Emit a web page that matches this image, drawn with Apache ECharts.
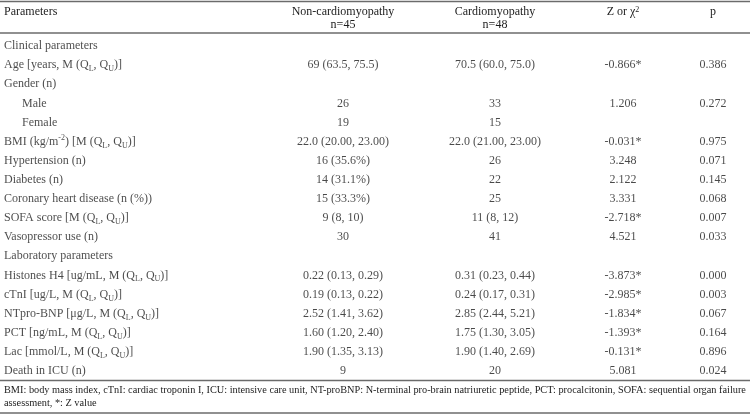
<!DOCTYPE html>
<html>
<head>
<meta charset="utf-8">
<script src="https://cdn.jsdelivr.net/npm/echarts@6/dist/echarts.min.js"></script>
<style>
  html, body { margin: 0; padding: 0; background: #fff; }
  #chart { width: 750px; height: 415px; }
</style>
</head>
<body>
<div id="chart"></div>
<script>
// table content
const headers = ["Parameters", "Non-cardiomyopathy\nn=45", "Cardiomyopathy\nn=48", "Z or χ{sup|2}", "p"];
const rows = [
  "Clinical parameters",
  "Age [years, M (Q{sub|L}, Q{sub|U})]",
  "Gender (n)",
  "Male",
  "Female",
  "BMI (kg/m{sup|-2}) [M (Q{sub|L}, Q{sub|U})]",
  "Hypertension (n)",
  "Diabetes (n)",
  "Coronary heart disease (n (%))",
  "SOFA score [M (Q{sub|L}, Q{sub|U})]",
  "Vasopressor use (n)",
  "Laboratory parameters",
  "Histones H4 [ug/mL, M (Q{sub|L}, Q{sub|U})]",
  "cTnI [ug/L, M (Q{sub|L}, Q{sub|U})]",
  "NTpro-BNP [μg/L, M (Q{sub|L}, Q{sub|U})]",
  "PCT [ng/mL, M (Q{sub|L}, Q{sub|U})]",
  "Lac [mmol/L, M (Q{sub|L}, Q{sub|U})]",
  "Death in ICU (n)"
];
const subRows = ["Male", "Female"];
const nonCardio = ["", "69 (63.5, 75.5)", "", "26", "19", "22.0 (20.00, 23.00)", "16 (35.6%)", "14 (31.1%)",
  "15 (33.3%)", "9 (8, 10)", "30", "", "0.22 (0.13, 0.29)", "0.19 (0.13, 0.22)", "2.52 (1.41, 3.62)",
  "1.60 (1.20, 2.40)", "1.90 (1.35, 3.13)", "9"];
const cardio = ["", "70.5 (60.0, 75.0)", "", "33", "15", "22.0 (21.00, 23.00)", "26", "22",
  "25", "11 (8, 12)", "41", "", "0.31 (0.23, 0.44)", "0.24 (0.17, 0.31)", "2.85 (2.44, 5.21)",
  "1.75 (1.30, 3.05)", "1.90 (1.40, 2.69)", "20"];
const zStat = ["", "-0.866*", "", "1.206", "", "-0.031*", "3.248", "2.122", "3.331", "-2.718*", "4.521", "",
  "-3.873*", "-2.985*", "-1.834*", "-1.393*", "-0.131*", "5.081"];
const pValue = ["", "0.386", "", "0.272", "", "0.975", "0.071", "0.145", "0.068", "0.007", "0.033", "",
  "0.000", "0.003", "0.067", "0.164", "0.896", "0.024"];
const footnote = [
  "BMI: body mass index, cTnI: cardiac troponin I, ICU: intensive care unit, NT-proBNP: N-terminal pro-brain natriuretic peptide, PCT: procalcitonin, SOFA: sequential organ failure",
  "assessment, *: Z value"
];

const FONT = "'Liberation Serif', 'Times New Roman', serif";
const TEXT = "#1c1c1c";
const RULE = "#6b6b6b";
const colX = [4, 343, 495, 623, 713];
const INDENT = 18;

const rich = {
  sub: { fontFamily: FONT, fontSize: 8, lineHeight: 10, verticalAlign: "bottom", color: TEXT },
  sup: { fontFamily: FONT, fontSize: 8, lineHeight: 10, verticalAlign: "top", color: TEXT }
};

const labelStyle = (align) => ({
  show: true,
  position: "inside",
  align: align,
  verticalAlign: "middle",
  fontFamily: FONT,
  fontSize: 12,
  lineHeight: 16,
  color: TEXT,
  rich: rich,
  formatter: (p) => p.data.text
});

const columnSeries = (texts, col, align) => ({
  type: "scatter",
  symbolSize: 0,
  silent: true,
  itemStyle: { color: "transparent" },
  label: labelStyle(align),
  data: texts
    .map((t, i) => {
      const x = col === 0 && subRows.includes(t) ? colX[0] + INDENT : colX[col];
      return { value: [x, rows[i]], text: t };
    })
    .filter((d) => d.text !== "")
});

const rule = (y, w) => ({
  type: "line",
  shape: { x1: 0, y1: y, x2: 750, y2: y },
  style: { stroke: RULE, lineWidth: w }
});

const headerText = (i, y) => ({
  type: "text",
  x: colX[i],
  y: y,
  style: {
    text: headers[i],
    font: "12px " + FONT,
    fill: TEXT,
    textAlign: i === 0 ? "left" : "center",
    textVerticalAlign: "middle",
    lineHeight: 13,
    rich: rich
  }
});

const option = {
  animation: false,
  grid: { left: 0, right: 0, top: 36.5, bottom: 34.5 },
  xAxis: { type: "value", min: 0, max: 750, show: false },
  yAxis: { type: "category", data: rows, inverse: true, show: false },
  series: [
    columnSeries(rows, 0, "left"),
    columnSeries(nonCardio, 1, "center"),
    columnSeries(cardio, 2, "center"),
    columnSeries(zStat, 3, "center"),
    columnSeries(pValue, 4, "center")
  ],
  graphic: [
    rule(1.5, 1.5),
    rule(33, 1.5),
    rule(380.5, 1.5),
    rule(413, 1.5),
    headerText(0, 12),
    headerText(1, 18.5),
    headerText(2, 18.5),
    headerText(3, 12),
    headerText(4, 12),
    {
      type: "text",
      x: 4,
      y: 396.5,
      style: {
        text: footnote.join("\n"),
        font: "10.3px " + FONT,
        fill: TEXT,
        lineHeight: 13,
        textAlign: "left",
        textVerticalAlign: "middle"
      }
    }
  ]
};

const chart = echarts.init(document.getElementById("chart"));
chart.setOption(option);
</script>
</body>
</html>
